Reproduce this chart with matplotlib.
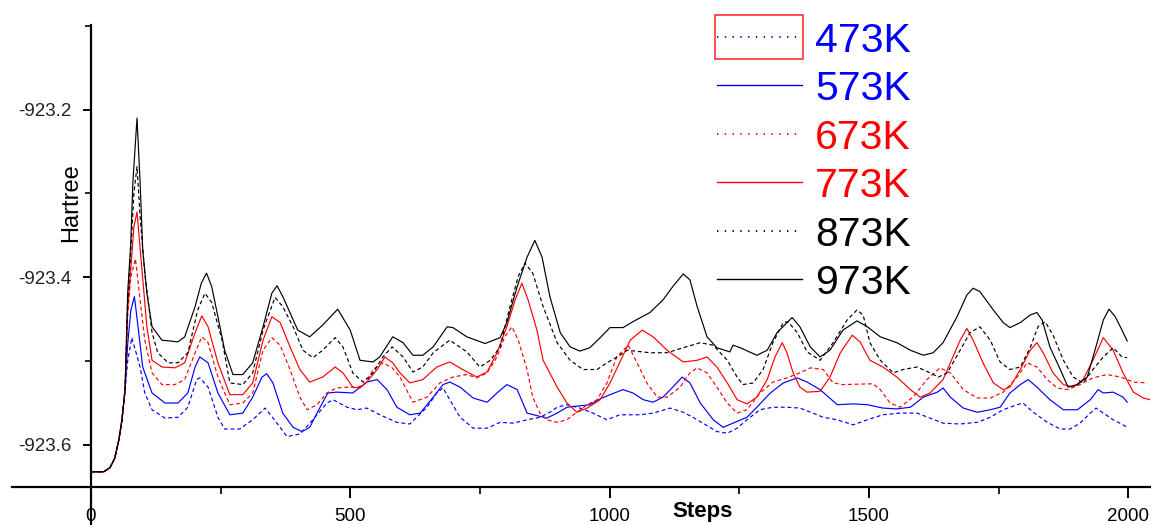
import matplotlib

matplotlib.use("Agg")

import matplotlib.pyplot as plt
from matplotlib.lines import Line2D
from matplotlib.patches import Rectangle
from matplotlib.ticker import FixedLocator, FuncFormatter


# shared start of every trajectory (steps, Hartree)
RAMP = [(0, -923.632), (25, -923.632), (37, -923.627), (46, -923.616),
        (54, -923.594), (60, -923.570), (66, -923.534)]

K473 = [(71, -923.500), (79, -923.472), (95, -923.507), (104, -923.538), (118, -923.558),
        (143, -923.568), (168, -923.567), (187, -923.555), (204, -923.522), (210, -923.520),
        (226, -923.531), (245, -923.567), (258, -923.581), (287, -923.581), (312, -923.570),
        (336, -923.556), (359, -923.574), (378, -923.590), (403, -923.587), (428, -923.570),
        (455, -923.550), (467, -923.546), (494, -923.555), (513, -923.558), (532, -923.556),
        (557, -923.564), (590, -923.573), (615, -923.575), (648, -923.555), (667, -923.538),
        (679, -923.532), (692, -923.546), (712, -923.567), (737, -923.580), (764, -923.580),
        (789, -923.573), (814, -923.574), (841, -923.570), (866, -923.567), (885, -923.561),
        (899, -923.555), (918, -923.552), (943, -923.556), (968, -923.562), (995, -923.570),
        (1020, -923.564), (1059, -923.564), (1084, -923.562), (1117, -923.556), (1142, -923.561),
        (1161, -923.567), (1180, -923.574), (1207, -923.584), (1227, -923.586), (1246, -923.580),
        (1265, -923.570), (1290, -923.558), (1315, -923.555), (1342, -923.555), (1367, -923.556),
        (1392, -923.562), (1412, -923.567), (1439, -923.570), (1470, -923.576), (1497, -923.570),
        (1527, -923.564), (1560, -923.562), (1593, -923.562), (1618, -923.568), (1643, -923.574),
        (1676, -923.575), (1709, -923.573), (1734, -923.567), (1759, -923.558), (1786, -923.552),
        (1797, -923.550), (1817, -923.561), (1844, -923.573), (1869, -923.581), (1888, -923.581),
        (1907, -923.574), (1927, -923.562), (1938, -923.556), (1952, -923.562), (1971, -923.570),
        (1990, -923.576), (1998, -923.579)]

K573 = [(71, -923.480), (77, -923.440), (84, -923.423), (91, -923.459), (100, -923.507),
        (118, -923.538), (143, -923.550), (168, -923.550), (187, -923.538), (201, -923.507),
        (210, -923.495), (226, -923.502), (245, -923.538), (268, -923.564), (293, -923.562),
        (312, -923.543), (330, -923.519), (339, -923.515), (351, -923.526), (370, -923.562),
        (390, -923.579), (407, -923.584), (422, -923.579), (442, -923.555), (457, -923.538),
        (474, -923.537), (505, -923.538), (532, -923.525), (552, -923.522), (571, -923.534),
        (590, -923.555), (615, -923.564), (635, -923.562), (660, -923.543), (679, -923.528),
        (692, -923.525), (712, -923.531), (737, -923.544), (764, -923.549), (783, -923.538),
        (802, -923.528), (822, -923.534), (841, -923.562), (879, -923.568), (899, -923.562),
        (918, -923.555), (962, -923.552), (982, -923.545), (1001, -923.540), (1026, -923.534),
        (1045, -923.538), (1065, -923.546), (1084, -923.549), (1103, -923.543), (1122, -923.531),
        (1140, -923.519), (1155, -923.526), (1175, -923.550), (1200, -923.570), (1219, -923.579),
        (1238, -923.574), (1265, -923.567), (1284, -923.555), (1310, -923.538), (1335, -923.526),
        (1362, -923.520), (1381, -923.525), (1406, -923.534), (1439, -923.552), (1470, -923.551),
        (1497, -923.552), (1527, -923.556), (1554, -923.557), (1580, -923.555), (1605, -923.543),
        (1632, -923.537), (1643, -923.532), (1657, -923.543), (1682, -923.556), (1709, -923.561),
        (1734, -923.558), (1753, -923.555), (1772, -923.538), (1792, -923.528), (1807, -923.522),
        (1824, -923.531), (1849, -923.546), (1875, -923.558), (1902, -923.558), (1927, -923.546),
        (1942, -923.534), (1952, -923.538), (1971, -923.537), (1990, -923.543), (1998, -923.549)]

K673 = [(71, -923.445), (77, -923.400), (86, -923.378), (95, -923.427), (104, -923.475),
        (118, -923.514), (137, -923.528), (162, -923.528), (181, -923.522), (201, -923.490),
        (214, -923.471), (226, -923.478), (245, -923.519), (268, -923.552), (293, -923.550),
        (312, -923.538), (332, -923.487), (349, -923.472), (365, -923.481), (384, -923.510),
        (403, -923.543), (417, -923.558), (436, -923.552), (455, -923.538), (474, -923.532),
        (500, -923.531), (513, -923.532), (532, -923.525), (544, -923.510), (563, -923.502),
        (581, -923.508), (596, -923.519), (621, -923.549), (648, -923.543), (673, -923.526),
        (698, -923.519), (725, -923.516), (744, -923.520), (764, -923.514), (783, -923.495),
        (798, -923.471), (812, -923.459), (824, -923.475), (841, -923.510), (852, -923.543),
        (866, -923.562), (879, -923.570), (899, -923.573), (918, -923.570), (937, -923.561),
        (957, -923.552), (976, -923.546), (995, -923.526), (1014, -923.495), (1036, -923.481),
        (1053, -923.502), (1072, -923.526), (1092, -923.543), (1111, -923.543), (1136, -923.531),
        (1155, -923.514), (1169, -923.508), (1188, -923.514), (1207, -923.531), (1227, -923.550),
        (1246, -923.562), (1265, -923.558), (1290, -923.538), (1315, -923.525), (1342, -923.520),
        (1367, -923.514), (1387, -923.508), (1412, -923.510), (1431, -923.526), (1450, -923.528),
        (1508, -923.527), (1522, -923.534), (1541, -923.550), (1560, -923.555), (1585, -923.543),
        (1612, -923.522), (1637, -923.508), (1657, -923.514), (1682, -923.534), (1709, -923.544),
        (1734, -923.544), (1759, -923.537), (1786, -923.519), (1805, -923.502), (1824, -923.507),
        (1844, -923.522), (1863, -923.532), (1882, -923.534), (1907, -923.528), (1932, -923.520),
        (1959, -923.516), (1985, -923.519), (2010, -923.525), (2037, -923.526)]

K773 = [(71, -923.440), (77, -923.390), (83, -923.340), (89, -923.322), (98, -923.387),
        (108, -923.459), (118, -923.499), (137, -923.507), (162, -923.508), (181, -923.502),
        (201, -923.466), (214, -923.446), (226, -923.459), (245, -923.502), (268, -923.540),
        (293, -923.540), (312, -923.526), (332, -923.475), (349, -923.447), (365, -923.454),
        (384, -923.483), (403, -923.510), (422, -923.525), (447, -923.519), (471, -923.507),
        (486, -923.514), (505, -923.531), (519, -923.532), (532, -923.525), (552, -923.510),
        (567, -923.495), (582, -923.502), (596, -923.514), (615, -923.526), (640, -923.522),
        (667, -923.507), (692, -923.501), (717, -923.510), (744, -923.519), (764, -923.513),
        (783, -923.490), (802, -923.459), (818, -923.427), (831, -923.407), (843, -923.427),
        (860, -923.463), (872, -923.499), (899, -923.531), (918, -923.550), (937, -923.561),
        (957, -923.556), (982, -923.546), (1001, -923.526), (1020, -923.501), (1040, -923.475),
        (1063, -923.463), (1084, -923.471), (1111, -923.487), (1142, -923.501), (1169, -923.499),
        (1188, -923.495), (1207, -923.507), (1227, -923.526), (1246, -923.546), (1265, -923.551),
        (1284, -923.543), (1304, -923.522), (1319, -923.495), (1333, -923.478), (1342, -923.490),
        (1354, -923.514), (1367, -923.531), (1381, -923.537), (1406, -923.536), (1425, -923.519),
        (1445, -923.490), (1468, -923.469), (1483, -923.477), (1502, -923.499), (1527, -923.507),
        (1554, -923.519), (1580, -923.534), (1599, -923.543), (1618, -923.538), (1643, -923.522),
        (1662, -923.495), (1676, -923.475), (1689, -923.461), (1701, -923.475), (1720, -923.502),
        (1740, -923.526), (1759, -923.534), (1772, -923.531), (1792, -923.510), (1811, -923.487),
        (1824, -923.478), (1836, -923.490), (1855, -923.514), (1875, -923.528), (1894, -923.531),
        (1913, -923.522), (1932, -923.499), (1952, -923.472), (1971, -923.487), (1990, -923.514),
        (2010, -923.537), (2029, -923.544), (2042, -923.546)]

K873 = [(71, -923.430), (77, -923.370), (83, -923.300), (89, -923.268), (95, -923.328),
        (104, -923.395), (118, -923.466), (129, -923.490), (149, -923.502), (168, -923.502),
        (187, -923.490), (206, -923.439), (220, -923.419), (233, -923.430), (253, -923.475),
        (268, -923.526), (293, -923.528), (312, -923.514), (332, -923.463), (355, -923.424),
        (370, -923.435), (390, -923.459), (409, -923.487), (428, -923.496), (447, -923.487),
        (471, -923.472), (486, -923.483), (505, -923.514), (525, -923.525), (544, -923.514),
        (563, -923.495), (581, -923.483), (602, -923.495), (621, -923.513), (640, -923.507),
        (660, -923.490), (692, -923.475), (725, -923.489), (750, -923.507), (770, -923.499),
        (789, -923.483), (808, -923.435), (824, -923.399), (837, -923.383), (852, -923.395),
        (872, -923.435), (899, -923.478), (924, -923.499), (949, -923.510), (976, -923.510),
        (995, -923.502), (1020, -923.493), (1034, -923.487), (1078, -923.490), (1111, -923.490),
        (1142, -923.484), (1175, -923.478), (1200, -923.481), (1227, -923.499), (1246, -923.519),
        (1257, -923.528), (1277, -923.526), (1296, -923.510), (1315, -923.478), (1335, -923.454),
        (1344, -923.453), (1362, -923.466), (1381, -923.489), (1406, -923.499), (1431, -923.478),
        (1458, -923.451), (1477, -923.439), (1489, -923.445), (1502, -923.478), (1522, -923.499),
        (1547, -923.514), (1566, -923.510), (1593, -923.507), (1618, -923.514), (1634, -923.519),
        (1651, -923.514), (1676, -923.487), (1695, -923.466), (1714, -923.459), (1734, -923.475),
        (1753, -923.501), (1772, -923.510), (1792, -923.507), (1811, -923.484), (1826, -923.459),
        (1840, -923.453), (1855, -923.469), (1875, -923.499), (1894, -923.519), (1913, -923.526),
        (1932, -923.510), (1952, -923.495), (1971, -923.484), (1988, -923.495), (1998, -923.496)]

K973 = [(71, -923.419), (77, -923.359), (81, -923.287), (89, -923.210), (95, -923.287),
        (100, -923.367), (108, -923.419), (118, -923.459), (137, -923.475), (168, -923.477),
        (181, -923.471), (201, -923.435), (213, -923.407), (223, -923.395), (233, -923.411),
        (245, -923.447), (258, -923.487), (274, -923.516), (293, -923.516), (312, -923.502),
        (332, -923.459), (349, -923.419), (359, -923.410), (370, -923.423), (399, -923.463),
        (422, -923.471), (447, -923.457), (476, -923.438), (500, -923.463), (519, -923.499),
        (544, -923.501), (557, -923.495), (582, -923.471), (602, -923.478), (621, -923.493),
        (640, -923.493), (660, -923.483), (687, -923.459), (698, -923.460), (725, -923.471),
        (760, -923.479), (789, -923.472), (802, -923.454), (822, -923.411), (841, -923.376),
        (856, -923.356), (870, -923.376), (885, -923.423), (905, -923.466), (924, -923.483),
        (943, -923.488), (962, -923.484), (982, -923.472), (1001, -923.460), (1026, -923.460),
        (1045, -923.453), (1078, -923.442), (1103, -923.427), (1122, -923.411), (1142, -923.396),
        (1155, -923.403), (1169, -923.435), (1188, -923.471), (1207, -923.484), (1232, -923.489),
        (1238, -923.481), (1252, -923.484), (1284, -923.493), (1304, -923.487), (1323, -923.466),
        (1352, -923.448), (1367, -923.459), (1387, -923.483), (1406, -923.495), (1425, -923.487),
        (1450, -923.463), (1477, -923.452), (1497, -923.459), (1522, -923.471), (1554, -923.478),
        (1580, -923.487), (1605, -923.493), (1624, -923.490), (1643, -923.478), (1670, -923.447),
        (1689, -923.421), (1701, -923.413), (1714, -923.417), (1740, -923.439), (1759, -923.454),
        (1772, -923.460), (1792, -923.454), (1811, -923.445), (1824, -923.442), (1834, -923.451),
        (1849, -923.483), (1869, -923.510), (1884, -923.531), (1902, -923.528), (1921, -923.519),
        (1940, -923.478), (1952, -923.451), (1963, -923.438), (1975, -923.447), (1988, -923.463),
        (1998, -923.476)]

LABELS = ["473K", "573K", "673K", "773K", "873K", "973K"]
SERIES = [K473, K573, K673, K773, K873, K973]
COLORS = ["#0000ff", "#0000ff", "#ff0000", "#ff0000", "#000000", "#000000"]
DOTTED = [True, False, True, False, True, False]

Y_MAJOR = [-923.6, -923.4, -923.2]
Y_MINOR = [-923.5, -923.3, -923.1]
X_MAJOR = [0, 500, 1000, 1500, 2000]
X_MINOR = [250, 750, 1250, 1750]

W, H = 1151, 525

plt.rcParams["font.family"] = ["Liberation Sans", "DejaVu Sans"]
plt.rcParams["axes.unicode_minus"] = False
plt.rcParams["lines.scale_dashes"] = False

fig = plt.figure(figsize=(W / 100, H / 100), dpi=100)
ax = fig.add_axes([12 / W, 0, 1138 / W, 500 / H])

for data, color, dotted in zip(SERIES, COLORS, DOTTED):
    pts = RAMP + data
    xs = [p[0] for p in pts]
    ys = [p[1] for p in pts]
    ls = (0, (2.8, 2.0)) if dotted else "-"
    ax.plot(xs, ys, color=color, lw=0.85, ls=ls)

ax.set_xlim(-152, 2042)
ax.set_ylim(-923.6955, -923.099)

for side in ("top", "right"):
    ax.spines[side].set_visible(False)
ax.spines["left"].set_position(("data", 0))
ax.spines["bottom"].set_position(("data", -923.65))
ax.spines["left"].set_linewidth(1.6)
ax.spines["bottom"].set_linewidth(1.6)

ax.xaxis.set_major_locator(FixedLocator(X_MAJOR))
ax.xaxis.set_minor_locator(FixedLocator(X_MINOR))
ax.yaxis.set_major_locator(FixedLocator(Y_MAJOR))
ax.yaxis.set_minor_locator(FixedLocator(Y_MINOR))
ax.xaxis.set_major_formatter(FuncFormatter(lambda v, p: f"{v:.0f}"))
ax.yaxis.set_major_formatter(FuncFormatter(lambda v, p: f"{v:.1f}"))

ax.tick_params(axis="x", which="major", direction="out", length=8, width=1.4,
               labelsize=13.5, pad=7)
ax.tick_params(axis="x", which="minor", direction="out", length=5, width=1.2)
ax.tick_params(axis="y", which="major", direction="out", length=6, width=1.4,
               labelsize=13.5, pad=8, labelcolor="#222222")
ax.tick_params(axis="y", which="minor", direction="out", length=4, width=1.2)

fig.text(71 / W, 1 - 203 / H, "Hartree", rotation=90, ha="center", va="center",
         fontsize=17)
fig.text(703 / W, 1 - 511 / H, "Steps", ha="center", va="center",
         fontsize=16, fontweight="bold")

# hand-built legend, top right
for i, (label, color, dotted) in enumerate(zip(LABELS, COLORS, DOTTED)):
    yc = 36.7 + 48.5 * i
    ls = (0, (1.0, 4.6)) if dotted else "-"
    fig.add_artist(Line2D([717 / W, 802 / W], [1 - yc / H] * 2, color=color,
                          lw=1.3 if dotted else 1.0, ls=ls,
                          transform=fig.transFigure))
    fig.text(815 / W, 1 - (yc + 15) / H, label, color=color, fontsize=29.5,
             va="baseline", ha="left")

fig.add_artist(Rectangle((715 / W, 1 - 59 / H), 88 / W, 44 / H, fill=False,
                         edgecolor="#ff3030", lw=1.2, transform=fig.transFigure))

fig.savefig("out.png", dpi=100)
